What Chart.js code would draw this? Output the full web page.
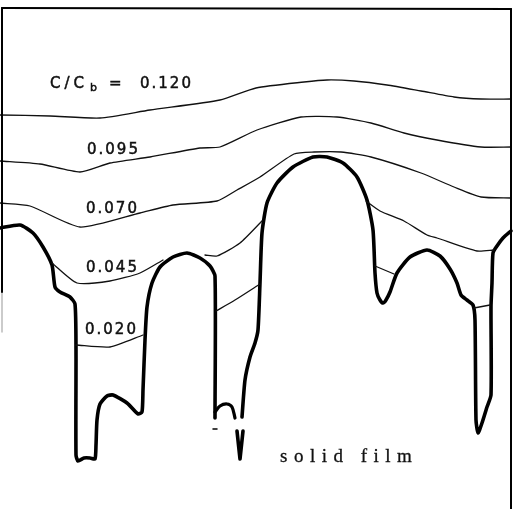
<!DOCTYPE html>
<html>
<head>
<meta charset="utf-8">
<script src="https://cdn.jsdelivr.net/npm/chart.js@4.4.0/dist/chart.umd.min.js"></script>
<style>
  html, body { margin: 0; padding: 0; background: #fff; }
  #wrap { width: 514px; height: 509px; }
</style>
</head>
<body>
<div id="wrap"><canvas id="filmChart" width="514" height="509"></canvas></div>
<script>
// plot frame is 514 x 509 units, y grows downward
// solid film surface (thick line), traced in pieces
const solidLeft = [
  [0, 228], [20, 225], [33, 233], [43, 247], [52, 265], [55, 287], [60, 292],
  [70, 297], [75, 304], [76, 350], [76, 455], [78, 461], [84, 458], [90, 458],
  [95, 459], [96, 445], [97, 420], [100, 404], [107, 396], [113, 395], [127, 403],
  [138, 414], [142, 412], [143, 390], [145, 340], [147, 307], [152, 283],
  [160, 267], [173, 257], [187, 253], [200, 258], [210, 266], [215, 276], [215, 418]
];
const solidSmallBump = [[215, 412], [220, 406], [227, 404], [232, 407], [235, 418]];
const solidNotch = [[237, 431], [240, 459], [243, 431]];
const solidDash = [[213, 429], [217, 429]];
const solidRight = [
  [242, 417], [245, 380], [250, 357], [255, 343], [258, 330], [260, 283],
  [262, 233], [267, 203], [277, 183], [293, 167], [313, 157], [327, 157],
  [343, 163], [357, 177], [367, 200], [373, 230], [375, 273], [377, 293],
  [380, 300], [383, 303], [386, 300], [390, 292], [397, 273], [410, 257],
  [427, 250], [440, 256], [450, 269], [457, 283], [461, 295], [467, 300],
  [473, 305], [475, 320], [476, 420], [478, 433], [482, 423], [487, 407],
  [491, 395], [491, 307], [492, 283], [493, 253], [497, 246], [503, 238], [511, 231]
];

// concentration contours C/Cb
const c120 = [
  [0, 115], [50, 116], [100, 118], [150, 110], [220, 100], [256, 88], [304, 82],
  [327, 80], [354, 81], [387, 85], [421, 91], [454, 97], [481, 99], [511, 99]
];
const c095 = [
  [0, 161], [40, 164], [80, 172], [110, 163], [150, 157], [200, 148], [220, 147],
  [257, 130], [301, 117], [337, 117], [371, 123], [404, 133], [437, 140],
  [481, 147], [511, 147]
];
const c070 = [
  [0, 203], [30, 206], [80, 227], [140, 213], [173, 205], [217, 201], [237, 190],
  [260, 177], [294, 154], [314, 152], [341, 152], [371, 157], [421, 173],
  [454, 187], [481, 197], [511, 198]
];
const c045a = [[52, 263], [77, 283], [110, 281], [140, 273], [163, 260]];
const c045b = [[205, 255], [217, 256], [240, 243], [262, 221]];
const c045c = [[366, 201], [380, 211], [404, 221], [427, 235], [437, 238], [477, 251], [494, 250]];
const c020a = [[76, 345], [110, 347], [143, 335]];
const c020b = [[216, 311], [235, 300], [260, 284]];
const c020c = [[375, 266], [394, 274]];
const c020d = [[474, 308], [490, 305]];

// frame
const frameTop = [[2, 8], [511, 9]];
const frameRight = [[511, 9], [511, 509]];
const frameLeft = [[2, 8], [2, 292]];
const frameLeftFaint = [[2, 292], [2, 332]];

// contour labels
const levelLabels = ["0.095", "0.070", "0.045", "0.020"];
const levelLabelX = [87, 86, 86, 85];
const levelLabelY = [154, 213, 272, 334];

function toPoints(arr) {
  return arr.map(function (p) { return { x: p[0], y: p[1] }; });
}

function line(arr, width, color, tension) {
  return {
    data: toPoints(arr),
    showLine: true,
    borderColor: color || "#000",
    borderWidth: width,
    borderJoinStyle: "round",
    borderCapStyle: "round",
    pointRadius: 0,
    tension: tension || 0,
    fill: false,
  };
}

function drawText(ctx, text, x, y) {
  ctx.fillText(text, x, y);
  ctx.strokeText(text, x, y);
}

const labelPlugin = {
  id: "contourLabels",
  afterDatasetsDraw: function (chart) {
    const ctx = chart.ctx;
    const xs = chart.scales.x;
    const ys = chart.scales.y;
    ctx.save();
    ctx.fillStyle = "#111";
    ctx.strokeStyle = "#111";
    ctx.lineWidth = 0.5;
    ctx.textBaseline = "alphabetic";
    ctx.font = "15px 'DejaVu Sans'";
    ctx.letterSpacing = "2px";
    for (let i = 0; i < levelLabels.length; i++) {
      drawText(ctx, levelLabels[i], xs.getPixelForValue(levelLabelX[i]), ys.getPixelForValue(levelLabelY[i]));
    }
    // heading C/Cb = 0.120
    ctx.letterSpacing = "4px";
    drawText(ctx, "C/C", xs.getPixelForValue(50), ys.getPixelForValue(88));
    ctx.font = "11px 'DejaVu Sans'";
    ctx.letterSpacing = "0px";
    drawText(ctx, "b", xs.getPixelForValue(90), ys.getPixelForValue(91));
    ctx.font = "15px 'DejaVu Sans'";
    drawText(ctx, "=", xs.getPixelForValue(109), ys.getPixelForValue(88));
    ctx.letterSpacing = "2px";
    drawText(ctx, "0.120", xs.getPixelForValue(140), ys.getPixelForValue(88));
    // solid film
    ctx.lineWidth = 0.3;
    ctx.font = "19px 'Liberation Serif'";
    ctx.letterSpacing = "6.5px";
    drawText(ctx, "solid film", xs.getPixelForValue(280), ys.getPixelForValue(462));
    ctx.restore();
  },
};

const ctx = document.getElementById("filmChart");
new Chart(ctx, {
  type: "scatter",
  data: {
    datasets: [
      line(frameTop, 2.2),
      line(frameRight, 2),
      line(frameLeft, 2),
      line(frameLeftFaint, 1.5, "#bbb"),
      line(c120, 1.3, "#111", 0.2),
      line(c095, 1.3, "#111", 0.2),
      line(c070, 1.3, "#111", 0.2),
      line(c045a, 1.3, "#111", 0.2),
      line(c045b, 1.3, "#111", 0.2),
      line(c045c, 1.3, "#111", 0.2),
      line(c020a, 1.3, "#111", 0.2),
      line(c020b, 1.3, "#111", 0.2),
      line(c020c, 1.3, "#111"),
      line(c020d, 1.3, "#111"),
      line(solidLeft, 3.6, "#000", 0.2),
      line(solidSmallBump, 3.2, "#000", 0.3),
      line(solidNotch, 3.6),
      line(solidDash, 1.5),
      line(solidRight, 3.6, "#000", 0.2),
    ],
  },
  options: {
    responsive: false,
    animation: false,
    layout: { padding: 0 },
    plugins: {
      legend: { display: false },
      tooltip: { enabled: false },
    },
    scales: {
      x: { type: "linear", min: 0, max: 514, display: false },
      y: { type: "linear", min: 0, max: 509, reverse: true, display: false },
    },
  },
  plugins: [labelPlugin],
});
</script>
</body>
</html>
